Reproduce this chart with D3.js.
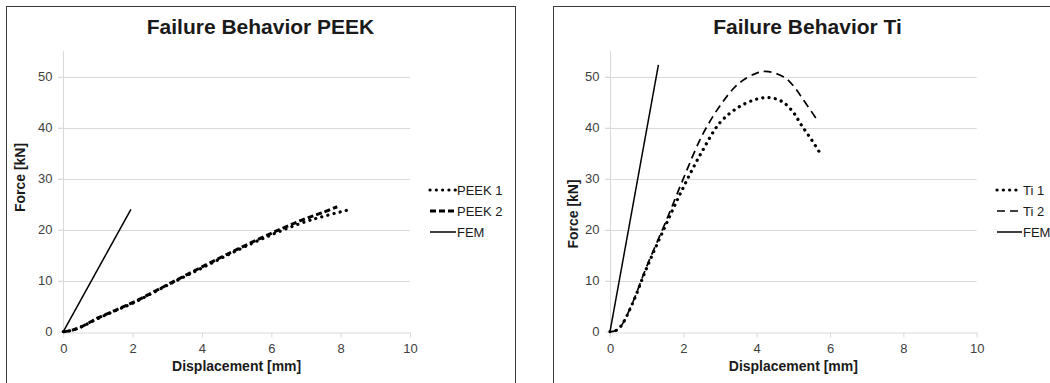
<!DOCTYPE html>
<html><head><meta charset="utf-8">
<script src="https://cdn.jsdelivr.net/npm/d3@7"></script>
<style>
html,body{margin:0;padding:0;background:#fff;overflow:hidden}
svg{display:block;font-family:"Liberation Sans",Arial,sans-serif}
</style></head>
<body>
<svg id="c" width="1050" height="383"></svg>
<script>
const xTicks = [0, 2, 4, 6, 8, 10];
const yTicks = [0, 10, 20, 30, 40, 50];
const titles = ["Failure Behavior PEEK", "Failure Behavior Ti"];
const xLabel = "Displacement [mm]";
const yLabel = "Force [kN]";

const peek1 = [[0,0],[0.2,0.2],[0.5,0.9],[1,2.6],[1.5,4.1],[2,5.6],[3,9.1],[4,12.5],[5,15.9],[6,19.0],[7,21.6],[7.5,22.6],[8,23.5],[8.3,24.0]];
const peek2 = [[0,0],[0.2,0.2],[0.5,0.9],[1,2.7],[1.5,4.2],[2,5.7],[3,9.2],[4,12.7],[5,16.1],[6,19.3],[7,22.2],[7.5,23.4],[7.9,24.5]];
const peekFem = [[0,0],[1.95,24.0]];

const ti1 = [[0,0],[0.15,0.2],[0.3,1.1],[0.6,5.3],[1,12.5],[1.5,20.6],[2,28.3],[2.5,35.2],[3,41.0],[3.5,44.0],[4,45.6],[4.35,45.9],[4.7,45.1],[5,43.0],[5.22,40.5],[5.5,37.6],[5.73,35.0]];
const ti2 = [[0,0],[0.15,0.2],[0.3,1.1],[0.6,5.4],[1,12.8],[1.5,21.2],[2,30.0],[2.5,38.3],[3,44.3],[3.5,48.6],[4,50.7],[4.32,51.0],[4.77,49.8],[5,48.2],[5.27,45.5],[5.68,41.2]];
const tiFem = [[0,0],[1.32,52.3]];

const peekNames = ["PEEK 1", "PEEK 2", "FEM"];
const tiNames = ["Ti 1", "Ti 2", "FEM"];

const styles = {
  dot:   {w: 3.2, dash: "0.1 6.2", cap: "round"},
  dashT: {w: 3,   dash: "6 3",     cap: "butt"},
  dashN: {w: 1.7, dash: "8 5",     cap: "butt"},
  solid: {w: 1.5, dash: null,      cap: "butt"}
};

const svg = d3.select("#c");

function panel(cfg) {
  const g = svg.append("g");
  g.append("rect").attr("x", cfg.bx + 0.5).attr("y", 6.5)
    .attr("width", cfg.bw).attr("height", 400)
    .attr("fill", "none").attr("stroke", "#3a3a3a").attr("stroke-width", 1);

  const x = d3.scaleLinear().domain([0, 10]).range([cfg.x0, cfg.x1]);
  const y = d3.scaleLinear().domain([0, 55]).range([331.7, 51.2]);

  g.append("g").selectAll("line").data(yTicks.filter(d => d > 0)).join("line")
    .attr("x1", x(0) - 5).attr("x2", x(10))
    .attr("y1", d => Math.round(y(d)) + 0.5).attr("y2", d => Math.round(y(d)) + 0.5)
    .attr("stroke", "#d9d9d9").attr("stroke-width", 1);

  g.append("line").attr("x1", Math.round(x(0)) + 0.5).attr("x2", Math.round(x(0)) + 0.5)
    .attr("y1", y(55)).attr("y2", y(0))
    .attr("stroke", "#d9d9d9");

  const xa = g.append("g").attr("transform", `translate(0,${Math.round(y(0)) + 0.5})`)
    .call(d3.axisBottom(x).tickValues(xTicks).tickSize(5).tickPadding(6).tickSizeOuter(0));
  xa.select(".domain").attr("stroke", "#d9d9d9");
  xa.selectAll(".tick line").attr("stroke", "#d9d9d9");
  xa.selectAll(".tick text").attr("fill", "#404040").attr("font-size", 13)
    .attr("font-family", "Liberation Sans, Arial, sans-serif");

  const ya = g.append("g").attr("transform", `translate(${Math.round(x(0)) + 0.5},0)`)
    .call(d3.axisLeft(y).tickValues(yTicks).tickSize(5).tickPadding(6));
  ya.select(".domain").remove();
  ya.selectAll(".tick line").attr("stroke", "#d9d9d9");
  ya.selectAll(".tick text").attr("fill", "#404040").attr("font-size", 13)
    .attr("font-family", "Liberation Sans, Arial, sans-serif");

  g.append("text").attr("x", cfg.tx).attr("y", 33.5).attr("text-anchor", "middle")
    .attr("font-size", 21).attr("font-weight", "bold").attr("fill", "#1a1a1a").text(cfg.title);
  g.append("text").attr("x", (x(0) + x(10)) / 2).attr("y", 371).attr("text-anchor", "middle")
    .attr("font-size", 14).attr("font-weight", "bold").attr("fill", "#1a1a1a").text(xLabel);
  g.append("text").attr("transform", `translate(${cfg.ylx},${cfg.yly}) rotate(-90)`)
    .attr("text-anchor", "middle").attr("dominant-baseline", "central")
    .attr("font-size", 14).attr("font-weight", "bold").attr("fill", "#1a1a1a").text(yLabel);

  const line = d3.line().x(d => x(d[0])).y(d => y(d[1])).curve(d3.curveCatmullRom.alpha(0.5));
  cfg.series.forEach(s => {
    const st = styles[s.style];
    g.append("path").datum(s.data).attr("d", line)
      .attr("fill", "none").attr("stroke", "#000")
      .attr("stroke-width", st.w).attr("stroke-dasharray", st.dash)
      .attr("stroke-linecap", st.cap);
  });

  const lg = g.append("g");
  cfg.series.forEach((s, i) => {
    const st = styles[s.style];
    const yy = 190 + i * 21;
    lg.append("line").attr("x1", cfg.lx).attr("x2", cfg.lx + cfg.lw)
      .attr("y1", yy).attr("y2", yy)
      .attr("stroke", "#000").attr("stroke-width", st.w)
      .attr("stroke-dasharray", st.dash).attr("stroke-linecap", st.cap);
    lg.append("text").attr("x", cfg.lx + cfg.lw + 1).attr("y", yy)
      .attr("dominant-baseline", "central").attr("font-size", 13)
      .attr("fill", "#1a1a1a").text(s.name);
  });
}

panel({
  bx: 6, bw: 509, x0: 63.3, x1: 410, tx: 260.5, ylx: 20, yly: 177.5,
  lx: 430, lw: 26, title: titles[0],
  series: [
    {name: peekNames[0], data: peek1, style: "dot"},
    {name: peekNames[1], data: peek2, style: "dashT"},
    {name: peekNames[2], data: peekFem, style: "solid"}
  ]
});
panel({
  bx: 553, bw: 520, x0: 610, x1: 976.7, tx: 807.5, ylx: 572.5, yly: 214,
  lx: 997, lw: 25, title: titles[1],
  series: [
    {name: tiNames[0], data: ti1, style: "dot"},
    {name: tiNames[1], data: ti2, style: "dashN"},
    {name: tiNames[2], data: tiFem, style: "solid"}
  ]
});
</script>
</body></html>
